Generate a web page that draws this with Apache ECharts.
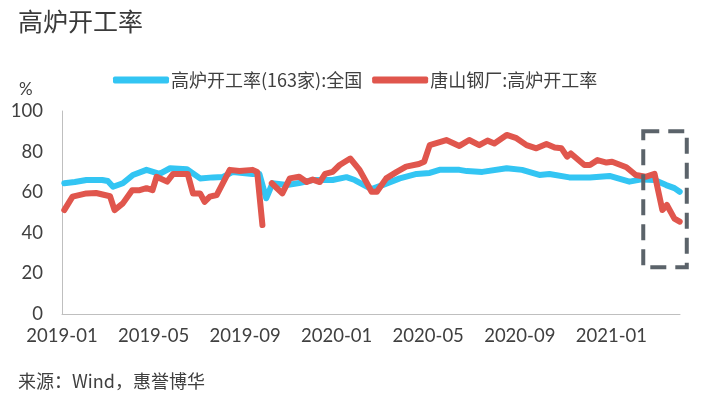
<!DOCTYPE html>
<html>
<head>
<meta charset="utf-8">
<script src="https://cdn.jsdelivr.net/npm/echarts@6/dist/echarts.min.js"></script>
<style>
  html, body { margin: 0; padding: 0; background: #fff; }
  #main { width: 714px; height: 398px; }
</style>
</head>
<body>
<div id="main"></div>
<script>
// 全国高炉开工率(163家)
const nationDates = [
  '2019-01-04', '2019-01-18', '2019-02-03', '2019-02-24', '2019-03-01', '2019-03-08', '2019-03-21',
  '2019-04-04', '2019-04-22', '2019-05-09', '2019-05-23', '2019-06-15', '2019-07-02', '2019-07-19',
  '2019-08-02', '2019-08-15', '2019-09-11', '2019-09-20', '2019-09-29', '2019-10-07', '2019-10-26',
  '2019-11-12', '2019-11-30', '2019-12-26', '2020-01-14', '2020-01-25', '2020-02-17', '2020-03-01',
  '2020-03-24', '2020-04-16', '2020-05-03', '2020-05-16', '2020-06-12', '2020-06-22', '2020-07-12',
  '2020-08-14', '2020-09-04', '2020-09-27', '2020-10-10', '2020-11-06', '2020-12-03', '2020-12-29',
  '2021-01-25', '2021-02-11', '2021-02-28', '2021-03-13', '2021-03-24', '2021-03-31',
]
const nationValues = [
  64.4, 65, 66, 66, 65.5, 62.7, 64.4,
  68.5, 71, 69, 71.8, 71.3, 66.8, 67.3,
  67.5, 70, 69, 69, 57, 64.4, 63.5,
  64.5, 66, 66, 67.4, 66, 61.5, 63.5,
  66.8, 69, 69.5, 71, 71, 70.4, 70,
  71.8, 71, 68.5, 69, 67.3, 67.2, 68,
  65.2, 66.3, 66, 63.5, 62, 60.2,
]

// 唐山钢厂高炉开工率
const tangshanDates = [
  '2019-01-04', '2019-01-15', '2019-02-03', '2019-02-16', '2019-03-04', '2019-03-10', '2019-03-21',
  '2019-04-03', '2019-04-13', '2019-04-22', '2019-04-30', '2019-05-05', '2019-05-19', '2019-05-27',
  '2019-06-16', '2019-06-23', '2019-07-02', '2019-07-08', '2019-07-15', '2019-07-24', '2019-08-11',
  '2019-08-24', '2019-09-11', '2019-09-17', '2019-09-24', '2019-09-30', '2019-10-06', '2019-10-20',
  '2019-10-30', '2019-11-12', '2019-11-22', '2019-11-30', '2019-12-09', '2019-12-16', '2019-12-26',
  '2020-01-05', '2020-01-19', '2020-02-01', '2020-02-17', '2020-02-24', '2020-03-06', '2020-03-20',
  '2020-04-02', '2020-04-19', '2020-04-26', '2020-05-03', '2020-05-25', '2020-06-12', '2020-06-25',
  '2020-07-08', '2020-07-19', '2020-07-28', '2020-08-14', '2020-08-27', '2020-09-10', '2020-09-23',
  '2020-10-06', '2020-10-17', '2020-10-26', '2020-11-03', '2020-11-08', '2020-11-26', '2020-12-03',
  '2020-12-13', '2020-12-25', '2021-01-02', '2021-01-21', '2021-02-03', '2021-02-16', '2021-02-28',
  '2021-03-08', '2021-03-14', '2021-03-24', '2021-03-31',
]
const tangshanValues = [
  51.2, 57.8, 59.4, 59.6, 58, 51.2, 54.5,
  61, 61, 62, 61, 67.6, 65.2, 69,
  69, 59.4, 59.4, 55.3, 57.8, 58.6, 71,
  70.4, 71, 70, 43.8, null, 64.4, 59.4,
  66.8, 67.6, 65, 66.2, 65, 69, 70,
  73.4, 76.6, 71, 60.2, 60.2, 66.8, 70,
  72.6, 73.9, 75, 83.2, 85.7, 82.8, 85.7,
  83.2, 85.4, 84, 88.2, 86.6, 83.2, 81.6,
  83.7, 82, 81.6, 77.5, 79.1, 73.4, 73.4,
  75.8, 74.6, 75, 72.3, 68.5, 67.6, 69,
  51.2, 53.7, 47, 45.5,
]

const tickLabels = ['2019-01', '2019-05', '2019-09', '2020-01', '2020-05', '2020-09', '2021-01']

// 虚线框标注范围
const boxDates = ['2021-02-13', '2021-04-10']
const boxRange = [23, 90]

const toMonth = (s) => {
  const [y, m, d] = s.split('-').map(Number)
  return (y - 2019) * 12 + (m - 1) + (d - 1) / 30.4
}
const pairs = (dates, values) => dates.map((d, i) => [toMonth(d), values[i]])

const labelColor = '#404040'
const axisColor = '#BFBFBF'
const numFont = 'Lato'
const cjkFont = 'Noto Sans CJK SC'

const chart = echarts.init(document.getElementById('main'), null, { renderer: 'canvas' })

const pctLabel = {
  type: 'text',
  left: 19,
  top: 81,
  style: { text: '%', font: '17px Lato', fill: labelColor },
}

chart.setOption({
  animation: false,
  backgroundColor: '#fff',
  title: [
    {
      text: '高炉开工率',
      left: 13,
      top: 4,
      textStyle: { fontFamily: cjkFont, fontSize: 25, fontWeight: 'normal', color: '#3a3a3a' },
    },
    {
      text: '来源：Wind，惠誉博华',
      left: 13,
      top: 367,
      textStyle: { fontFamily: cjkFont, fontSize: 18, fontWeight: 'normal', color: labelColor },
    },
  ],
  legend: {
    left: 108,
    top: 66,
    itemWidth: 56,
    itemHeight: 7,
    itemGap: 10,
    icon: 'roundRect',
    textStyle: { fontFamily: cjkFont, fontSize: 18, color: labelColor, padding: [0, 0, 0, -3] },
  },
  grid: { left: 62, right: 34, top: 111, bottom: 84 },
  xAxis: {
    type: 'value',
    min: 0,
    max: 27,
    interval: 4,
    axisLine: { show: true, lineStyle: { color: axisColor, width: 1 } },
    axisTick: { show: false },
    splitLine: { show: false },
    axisLabel: {
      margin: 13,
      showMaxLabel: false,
      fontFamily: numFont,
      fontSize: 18.5,
      color: labelColor,
      formatter: (v) => tickLabels[v / 4] || '',
    },
  },
  yAxis: {
    type: 'value',
    min: 0,
    max: 100,
    interval: 20,
    axisLine: { show: true, lineStyle: { color: axisColor, width: 1 } },
    axisTick: { show: false },
    splitLine: { show: false },
    axisLabel: { margin: 19, fontFamily: numFont, fontSize: 18.5, color: labelColor },
  },
  graphic: [pctLabel],
  series: [
    {
      name: '高炉开工率(163家):全国',
      type: 'line',
      data: pairs(nationDates, nationValues),
      showSymbol: false,
      symbol: 'none',
      color: '#33C5F3',
      lineStyle: { width: 6, cap: 'round', join: 'round' },
    },
    {
      name: '唐山钢厂:高炉开工率',
      type: 'line',
      data: pairs(tangshanDates, tangshanValues),
      showSymbol: false,
      symbol: 'none',
      connectNulls: false,
      color: '#E0564D',
      lineStyle: { width: 6, cap: 'round', join: 'round' },
    },
  ],
})

// 虚线框，由数据坐标换算
const p1 = chart.convertToPixel({ gridIndex: 0 }, [toMonth(boxDates[0]), boxRange[1]])
const p2 = chart.convertToPixel({ gridIndex: 0 }, [toMonth(boxDates[1]), boxRange[0]])
chart.setOption({
  graphic: [
    pctLabel,
    {
      type: 'rect',
      shape: { x: p1[0], y: p1[1], width: p2[0] - p1[0], height: p2[1] - p1[1] },
      style: { fill: 'none', stroke: '#5B636A', lineWidth: 4, lineDash: [16, 9] },
      z: 10,
    },
  ],
})
</script>
</body>
</html>
